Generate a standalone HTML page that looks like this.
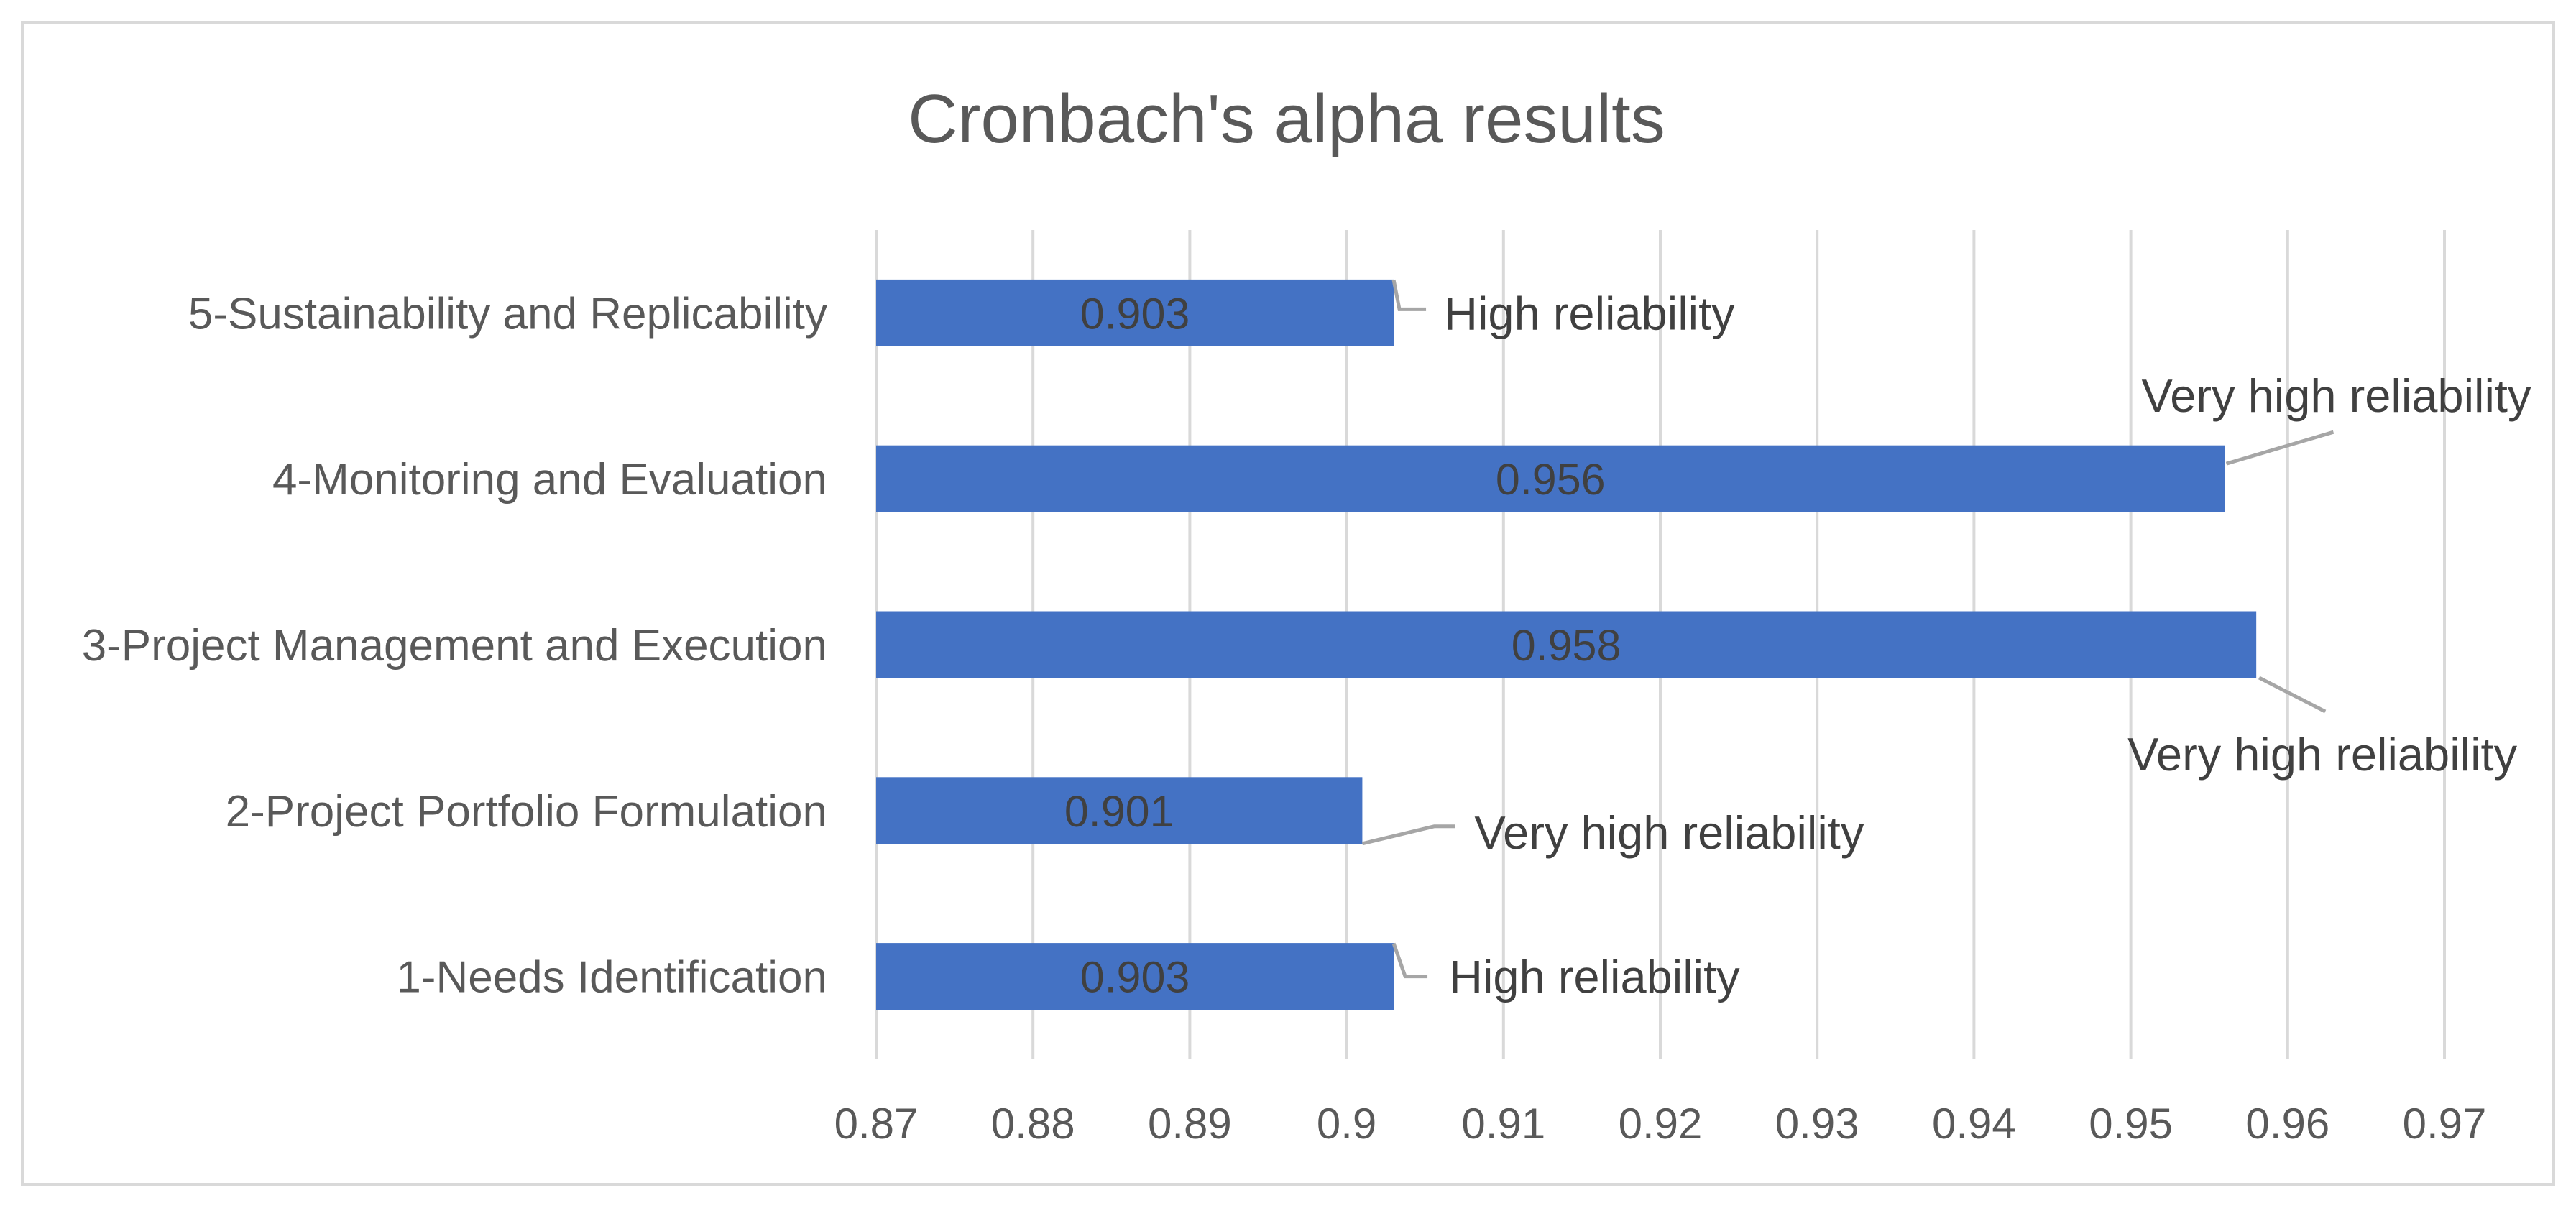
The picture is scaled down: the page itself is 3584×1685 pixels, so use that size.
<!DOCTYPE html>
<html><head><meta charset="utf-8">
<style>
html,body{margin:0;padding:0;background:#fff;}
svg{display:block;font-family:"Liberation Sans",sans-serif;}
</style></head>
<body>
<svg id="chart" width="3584" height="1685" viewBox="0 0 3584 1685" xmlns="http://www.w3.org/2000/svg">
<rect x="31" y="31" width="3522" height="1617" fill="#fff" stroke="#d9d9d9" stroke-width="4"/>
<text x="1790" y="198" text-anchor="middle" font-size="96" fill="#595959">Cronbach's alpha results</text>
<g id="grid"></g>
<g id="bars"></g>
<g id="labels"></g>
</svg>
<script>
const categories = ["1-Needs Identification","2-Project Portfolio Formulation","3-Project Management and Execution","4-Monitoring and Evaluation","5-Sustainability and Replicability"];
const values = [0.903,0.901,0.958,0.956,0.903];
const valueLabels = ["0.903","0.901","0.958","0.956","0.903"];
const notes = ["High reliability","Very high reliability","Very high reliability","Very high reliability","High reliability"];
const ticks = [0.87,0.88,0.89,0.9,0.91,0.92,0.93,0.94,0.95,0.96,0.97];
const tickLabels = ["0.87","0.88","0.89","0.9","0.91","0.92","0.93","0.94","0.95","0.96","0.97"];

const NS="http://www.w3.org/2000/svg";
const X0=1219, X1=3401, PT=320, PB=1474, XMIN=0.87, XMAX=0.97;
const x=v=>X0+(v-XMIN)/(XMAX-XMIN)*(X1-X0);
const band=(PB-PT)/categories.length;
const yc=i=>PB-band*(i+0.5);
const BH=93;
function mk(tag,attrs,parent){const e=document.createElementNS(NS,tag);for(const k in attrs)e.setAttribute(k,attrs[k]);parent.appendChild(e);return e;}
const grid=document.getElementById('grid'),bars=document.getElementById('bars'),labels=document.getElementById('labels');
ticks.forEach((t,i)=>{
  const l=mk('line',{x1:x(t),x2:x(t),y1:PT,y2:PB,stroke:'#d9d9d9','stroke-width':4},grid);
  
  
  const tx=mk('text',{x:x(t),y:1584,'text-anchor':'middle','font-size':60,fill:'#595959'},labels);
  tx.textContent=tickLabels[i];
  
  
});
const noteLayout=[
  {pts:[[0,-46],[16,0],[47,0]],tx:77,ty:0},
  {pts:[[0,46],[100,22],[129,22]],tx:156,ty:30},
  {pts:[[4,46],[96,93],[96,93]],tx:-179,ty:152},
  {pts:[[2,-21],[151,-65],[151,-65]],tx:-116,ty:-116},
  {pts:[[0,-46],[8,-5],[45,-5]],tx:70,ty:0}
];
categories.forEach((c,i)=>{
  const y=yc(i), xe=x(values[i]);
  const r=mk('rect',{x:X0,y:y-BH/2,width:xe-X0,height:BH,fill:'#4472c4'},bars);
  
  
  const cl=mk('text',{x:1151,y:y+22,'text-anchor':'end','font-size':62,fill:'#595959'},labels);
  cl.textContent=c;
  
  
  const vl=mk('text',{x:(X0+xe)/2,y:y+22,'text-anchor':'middle','font-size':61,fill:'#404040'},labels);
  vl.textContent=valueLabels[i];
  
  
  const L=noteLayout[i];
  const pts=L.pts.map(p=>(xe+p[0])+','+(y+p[1])).join(' ');
  const pl=mk('polyline',{points:pts,fill:'none',stroke:'#a6a6a6','stroke-width':5},labels);
  
  
  const nt=mk('text',{x:xe+L.tx,y:y+L.ty+23,'font-size':65,fill:'#404040'},labels);
  nt.textContent=notes[i];
  
  
});
</script>
</body></html>
